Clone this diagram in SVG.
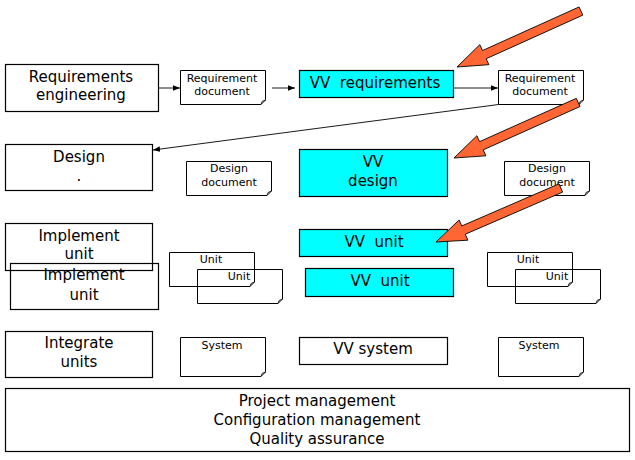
<svg xmlns="http://www.w3.org/2000/svg" width="635" height="460" viewBox="0 0 635 460">
<style>
.box{fill:none;stroke:#000;stroke-width:1.2}
.vv{fill:#00FFFF;stroke:#000;stroke-width:1.2}
.doc{fill:none;stroke:#000;stroke-width:1}
.fold{fill:none;stroke:#000;stroke-width:0.8}
.t{font-family:"DejaVu Sans","Liberation Sans",sans-serif;font-size:15px;fill:#000;text-anchor:middle}
.s{font-family:"DejaVu Sans","Liberation Sans",sans-serif;font-size:11px;fill:#000;text-anchor:middle}
.c{stroke:#000;stroke-width:0.9;fill:none;marker-end:url(#ah)}
.big{fill:#FF6633;stroke:#000;stroke-width:0.8;stroke-linejoin:miter}
</style>
<defs>
<marker id="ah" viewBox="0 0 10 10" refX="10" refY="5" markerWidth="7" markerHeight="7" markerUnits="userSpaceOnUse" orient="auto">
<path d="M0,1 L10,5 L0,9 Z" fill="#000"/>
</marker>
<path id="bigarrow" d="M0,0 L30,-11 L30,-4.5 L136,-4.5 L136,4.5 L30,4.5 L30,11 Z"/>
</defs>
<rect x="0" y="0" width="635" height="460" fill="#fff"/>

<g id="req-eng">
<rect class="box" x="5.5" y="64.5" width="153" height="47"/>
<text class="t" x="81" y="82">Requirements</text>
<text class="t" x="81" y="100">engineering</text>
</g>
<g id="req-doc-1">
<path class="doc" d="M180.5,70.5 H265.5 V100 L261,104.5 H180.5 Z"/>
<path class="fold" d="M265.5,100 L262,101.5 L261,104.5"/>
<text class="s" x="222" y="82">Requirement</text>
<text class="s" x="222" y="95">document</text>
</g>
<g id="vv-req">
<rect class="vv" x="299.5" y="70.5" width="154" height="27"/>
<text class="t" x="375" y="88" xml:space="preserve">VV  requirements</text>
</g>
<g id="req-doc-2">
<path class="doc" d="M498.5,70.5 H583.5 V100 L579,104.5 H498.5 Z"/>
<path class="fold" d="M583.5,100 L580,101.5 L579,104.5"/>
<text class="s" x="540" y="82">Requirement</text>
<text class="s" x="540" y="95">document</text>
</g>

<g id="design">
<rect class="box" x="5.5" y="144.5" width="147" height="46"/>
<text class="t" x="79" y="162">Design</text>
<text class="t" x="79" y="181">.</text>
</g>
<g id="design-doc-1">
<path class="doc" d="M186.5,161.5 H271.5 V191 L267,195.5 H186.5 Z"/>
<path class="fold" d="M271.5,191 L268,192.5 L267,195.5"/>
<text class="s" x="229" y="172">Design</text>
<text class="s" x="229" y="186">document</text>
</g>
<g id="vv-design">
<rect class="vv" x="299.5" y="149.5" width="148" height="47"/>
<text class="t" x="373" y="167">VV</text>
<text class="t" x="373" y="186">design</text>
</g>
<g id="design-doc-2">
<path class="doc" d="M504.5,161.5 H589.5 V191 L585,195.5 H504.5 Z"/>
<path class="fold" d="M589.5,191 L586,192.5 L585,195.5"/>
<text class="s" x="547" y="172">Design</text>
<text class="s" x="547" y="186">document</text>
</g>

<g id="impl-unit-1">
<rect class="box" x="5.5" y="223.5" width="147" height="47"/>
<text class="t" x="79" y="241">Implement</text>
<text class="t" x="79" y="259">unit</text>
</g>
<g id="impl-unit-2">
<rect class="box" x="10.5" y="263.5" width="148" height="46"/>
<text class="t" x="84" y="280">Implement</text>
<text class="t" x="84" y="300">unit</text>
</g>
<g id="unit-doc-1a">
<path class="doc" d="M169.5,252.5 H254.5 V282 L250,286.5 H169.5 Z"/>
<path class="fold" d="M254.5,282 L251,283.5 L250,286.5"/>
<text class="s" x="211" y="263">Unit</text>
</g>
<g id="unit-doc-1b">
<path class="doc" d="M197.5,269.5 H282.5 V299 L278,303.5 H197.5 Z"/>
<path class="fold" d="M282.5,299 L279,300.5 L278,303.5"/>
<text class="s" x="239" y="280">Unit</text>
</g>
<g id="vv-unit-1">
<rect class="vv" x="299.5" y="229.5" width="148" height="27"/>
<text class="t" x="374" y="247" xml:space="preserve">VV  unit</text>
</g>
<g id="vv-unit-2">
<rect class="vv" x="305.5" y="268.5" width="148" height="28"/>
<text class="t" x="380" y="286" xml:space="preserve">VV  unit</text>
</g>
<g id="unit-doc-2a">
<path class="doc" d="M487.5,252.5 H572.5 V282 L568,286.5 H487.5 Z"/>
<path class="fold" d="M572.5,282 L569,283.5 L568,286.5"/>
<text class="s" x="528" y="263">Unit</text>
</g>
<g id="unit-doc-2b">
<path class="doc" d="M515.5,269.5 H600.5 V299 L596,303.5 H515.5 Z"/>
<path class="fold" d="M600.5,299 L597,300.5 L596,303.5"/>
<text class="s" x="557" y="280">Unit</text>
</g>

<g id="integrate">
<rect class="box" x="5.5" y="331.5" width="147" height="46"/>
<text class="t" x="79" y="348">Integrate</text>
<text class="t" x="79" y="367">units</text>
</g>
<g id="system-doc-1">
<path class="doc" d="M180.5,337.5 H265.5 V372 L261,376.5 H180.5 Z"/>
<path class="fold" d="M265.5,372 L262,373.5 L261,376.5"/>
<text class="s" x="222" y="349">System</text>
</g>
<g id="vv-system">
<rect class="box" x="299.5" y="337.5" width="148" height="27"/>
<text class="t" x="373" y="354">VV system</text>
</g>
<g id="system-doc-2">
<path class="doc" d="M498.5,337.5 H583.5 V372 L579,376.5 H498.5 Z"/>
<path class="fold" d="M583.5,372 L580,373.5 L579,376.5"/>
<text class="s" x="539" y="349">System</text>
</g>

<g id="management">
<rect class="box" x="5.5" y="388.5" width="624" height="63"/>
<text class="t" x="317" y="406">Project management</text>
<text class="t" x="317" y="425">Configuration management</text>
<text class="t" x="317" y="444">Quality assurance</text>
</g>

<g id="connectors">
<line class="c" x1="158.5" y1="88" x2="180" y2="88"/>
<line class="c" x1="272" y1="88" x2="295" y2="88"/>
<line class="c" x1="453.5" y1="88" x2="498" y2="88"/>
<line class="c" x1="498.5" y1="104.5" x2="153" y2="150"/>
</g>

<g id="highlight-arrows">
<use href="#bigarrow" class="big" transform="translate(457,67) rotate(-24.3)"/>
<use href="#bigarrow" class="big" transform="translate(454,158) rotate(-24.1)"/>
<use href="#bigarrow" class="big" transform="translate(436,242) rotate(-23.4)"/>
</g>
</svg>
